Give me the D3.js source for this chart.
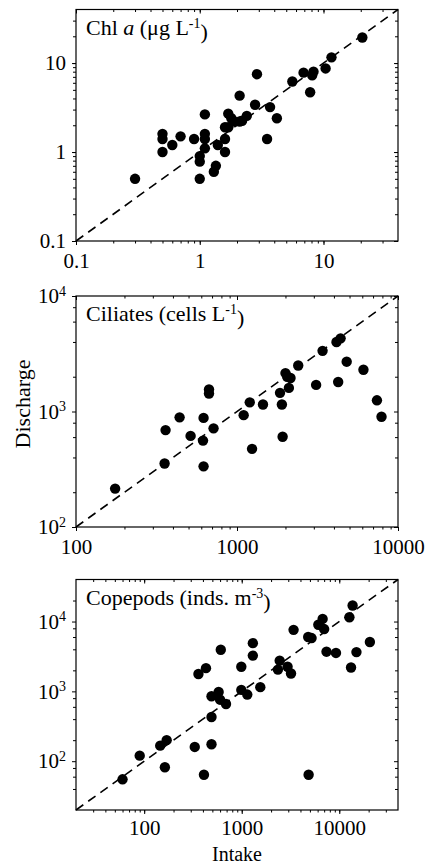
<!DOCTYPE html>
<html>
<head>
<meta charset="utf-8">
<script src="https://cdn.jsdelivr.net/npm/d3@7"></script>
<style>
  body { margin: 0; background: #fff; }
  svg text { font-family: "Liberation Serif", "Times New Roman", serif; fill: #000; }
</style>
</head>
<body>
<div id="chart"></div>
<script>
// values (intake vs discharge)
var chlIntake    = [20.6, 11.6, 10.4, 8.3, 8.1, 6.9, 7.8, 5.6, 2.9, 2.1, 2.8, 3.7, 4.2, 1.1, 1.7, 1.8, 2.4, 1.9, 2.1, 2.2, 1.6, 1.7, 0.5, 0.5, 0.7, 0.9, 1.1, 1.1, 1.6, 1.4, 0.6, 1.1, 0.5, 1.6, 1.0, 1.0, 1.35, 1.3, 1.0, 0.3, 3.5];
var chlDischarge = [19.4, 11.6, 8.7, 8.0, 7.3, 7.8, 4.7, 6.2, 7.5, 4.3, 3.4, 3.2, 2.4, 2.65, 2.7, 2.4, 2.55, 2.2, 2.2, 2.25, 1.9, 1.9, 1.6, 1.4, 1.5, 1.4, 1.6, 1.4, 1.4, 1.2, 1.2, 1.1, 1.0, 1.0, 0.9, 0.78, 0.7, 0.6, 0.5, 0.5, 1.4];

var ciliatesIntake    = [4400, 4150, 3400, 4800, 6100, 2400, 2000, 2150, 2050, 3100, 4250, 2100, 1850, 1900, 1450, 1200, 670, 670, 7400, 7900, 1100, 440, 620, 360, 515, 615, 715, 1920, 1240, 355, 620, 175];
var ciliatesDischarge = [4300, 4000, 3350, 2700, 2300, 2500, 2150, 1950, 2000, 1700, 1800, 1600, 1450, 1150, 1150, 1200, 1550, 1430, 1250, 900, 930, 890, 880, 690, 615, 560, 715, 605, 475, 355, 335, 215];

var copepodsIntake    = [13700, 12700, 20600, 15000, 13200, 6750, 6100, 7000, 7400, 9250, 4800, 5200, 3400, 2450, 2350, 2950, 3200, 1550, 1300, 1300, 990, 990, 1140, 610, 430, 360, 580, 490, 600, 690, 490, 170, 146, 330, 490, 90, 163, 60, 410, 4850];
var copepodsDischarge = [17000, 11500, 5100, 3650, 2200, 10900, 9000, 7800, 3700, 3550, 6000, 5800, 7600, 2750, 2050, 2250, 1800, 1150, 4900, 3250, 2250, 1050, 900, 3950, 2150, 1770, 980, 850, 760, 660, 430, 200, 167, 160, 175, 120, 82, 55, 64, 64];

var chlTicks = [0.1, 1, 10];
var chlTickLabels = ["0.1", "1", "10"];
var ciliatesXTicks = [100, 1000, 10000];
var ciliatesXLabels = ["100", "1000", "10000"];
var ciliatesYTicks = [100, 1000, 10000];
var copepodsXTicks = [100, 1000, 10000];
var copepodsXLabels = ["100", "1000", "10000"];
var copepodsYTicks = [100, 1000, 10000];

var width = 430, height = 864;
var left = 76, right = 398;
var fontSize = 21;

var svg = d3.select("#chart")
  .append("svg")
  .attr("width", width)
  .attr("height", height);

function logMinors(domain, mults) {
  var out = [];
  var k0 = Math.floor(Math.log10(domain[0])), k1 = Math.ceil(Math.log10(domain[1]));
  for (var k = k0; k <= k1; k++) {
    mults.forEach(function(m) {
      var v = m * Math.pow(10, k);
      if (v > domain[0] * 1.0001 && v < domain[1] * 0.9999) out.push(v);
    });
  }
  return out;
}

function powerLabel(sel) {
  // turns 100 into 10 with a raised exponent
  sel.each(function(d) {
    var t = d3.select(this);
    t.text(null);
    t.append("tspan").text("10");
    t.append("tspan")
      .attr("dy", "-0.55em")
      .style("font-size", "14px")
      .text(Math.round(Math.log10(d)));
  });
}

function drawPanel(p) {
  var g = svg.append("g");
  var x = d3.scaleLog().domain(p.domain).range([left, right]);
  var y = d3.scaleLog().domain(p.domain).range([p.bottom, p.top]);

  var allX = [1, 2, 3, 4, 5, 6, 7, 8, 9];

  // minor ticks, all four sides
  var xMin = logMinors(p.domain, allX);
  var yMin = logMinors(p.domain, p.yMinor);
  g.append("g").attr("transform", "translate(0," + p.bottom + ")")
    .call(d3.axisBottom(x).tickValues(xMin).tickSize(2.5).tickFormat(""));
  g.append("g").attr("transform", "translate(0," + p.top + ")")
    .call(d3.axisTop(x).tickValues(xMin).tickSize(-2.5).tickFormat(""));
  g.append("g").attr("transform", "translate(" + left + ",0)")
    .call(d3.axisLeft(y).tickValues(yMin).tickSize(3).tickFormat(""));
  g.append("g").attr("transform", "translate(" + right + ",0)")
    .call(d3.axisRight(y).tickValues(yMin).tickSize(-3).tickFormat(""));

  // major ticks
  var xAx = g.append("g").attr("transform", "translate(0," + p.bottom + ")")
    .call(d3.axisBottom(x).tickValues(p.xTicks).tickSize(4).tickPadding(p.xPad || 8)
      .tickFormat(function(d, i) { return p.xLabels[i]; }));
  g.append("g").attr("transform", "translate(0," + p.top + ")")
    .call(d3.axisTop(x).tickValues(p.xTicks).tickSize(-4).tickFormat(""));
  var yAx = g.append("g").attr("transform", "translate(" + left + ",0)")
    .call(d3.axisLeft(y).tickValues(p.yTicks).tickSize(4).tickPadding(6)
      .tickFormat(function(d, i) { return p.yLabels ? p.yLabels[i] : d; }));
  g.append("g").attr("transform", "translate(" + right + ",0)")
    .call(d3.axisRight(y).tickValues(p.yTicks).tickSize(-4).tickFormat(""));

  g.selectAll(".domain").remove();
  g.selectAll(".tick line").attr("stroke", "#000").attr("stroke-width", 1);
  g.selectAll(".tick text")
    .style("font-family", "'Liberation Serif', serif")
    .style("font-size", fontSize + "px")
    .attr("fill", "#000");
  if (!p.yLabels) yAx.selectAll(".tick text").call(powerLabel);

  // frame
  g.append("rect")
    .attr("x", left)
    .attr("y", p.top)
    .attr("width", right - left)
    .attr("height", p.bottom - p.top)
    .attr("fill", "none")
    .attr("stroke", "#000")
    .attr("stroke-width", 1.2);

  // 1:1 line
  var line = d3.line()
    .x(function(d) { return x(d); })
    .y(function(d) { return y(d); });
  g.append("path")
    .attr("d", line(p.domain))
    .attr("fill", "none")
    .attr("stroke", "#000")
    .attr("stroke-width", 1.6)
    .attr("stroke-dasharray", "9,6");

  var pts = p.xs.map(function(v, i) { return [v, p.ys[i]]; });
  g.selectAll("circle.dot")
    .data(pts)
    .enter()
    .append("circle")
    .attr("class", "dot")
    .attr("cx", function(d) { return x(d[0]); })
    .attr("cy", function(d) { return y(d[1]); })
    .attr("r", 5.2)
    .attr("fill", "#000");

  var title = g.append("text")
    .attr("x", left + 10)
    .attr("y", p.top + 25)
    .style("font-size", "22px");
  p.title(title);
}

drawPanel({
  top: 9.5, bottom: 241,
  domain: [0.1, 40],
  xs: chlIntake, ys: chlDischarge,
  xTicks: chlTicks, xLabels: chlTickLabels,
  yTicks: chlTicks, yLabels: chlTickLabels,
  yMinor: [1, 2, 3, 4, 5, 6, 7, 8, 9],
  title: function(t) {
    t.append("tspan").text("Chl ");
    t.append("tspan").style("font-style", "italic").text("a");
    t.append("tspan").text(" (μg L");
    t.append("tspan").attr("dy", "-0.5em").style("font-size", "14px").text("-1");
    t.append("tspan").attr("dy", "0.5em").text(")");
  }
});

drawPanel({
  top: 296, bottom: 527,
  domain: [100, 10000],
  xs: ciliatesIntake, ys: ciliatesDischarge,
  xTicks: ciliatesXTicks, xLabels: ciliatesXLabels,
  yTicks: ciliatesYTicks,
  yMinor: [2, 4, 6, 8],
  title: function(t) {
    t.append("tspan").text("Ciliates (cells L");
    t.append("tspan").attr("dy", "-0.5em").style("font-size", "14px").text("-1");
    t.append("tspan").attr("dy", "0.5em").text(")");
  }
});

drawPanel({
  top: 579.5, bottom: 810,
  domain: [20, 40000],
  xs: copepodsIntake, ys: copepodsDischarge,
  xTicks: copepodsXTicks, xLabels: copepodsXLabels,
  yTicks: copepodsYTicks,
  yMinor: [2, 4, 6, 8],
  xPad: 6,
  title: function(t) {
    t.append("tspan").text("Copepods (inds. m");
    t.append("tspan").attr("dy", "-0.5em").style("font-size", "14px").text("-3");
    t.append("tspan").attr("dy", "0.5em").text(")");
  }
});

svg.append("text")
  .attr("transform", "translate(30,404) rotate(-90)")
  .attr("text-anchor", "middle")
  .style("font-size", "22px")
  .text("Discharge");

svg.append("text")
  .attr("x", (left + right) / 2)
  .attr("y", 861)
  .attr("text-anchor", "middle")
  .style("font-size", "20px")
  .text("Intake");
</script>
</body>
</html>
